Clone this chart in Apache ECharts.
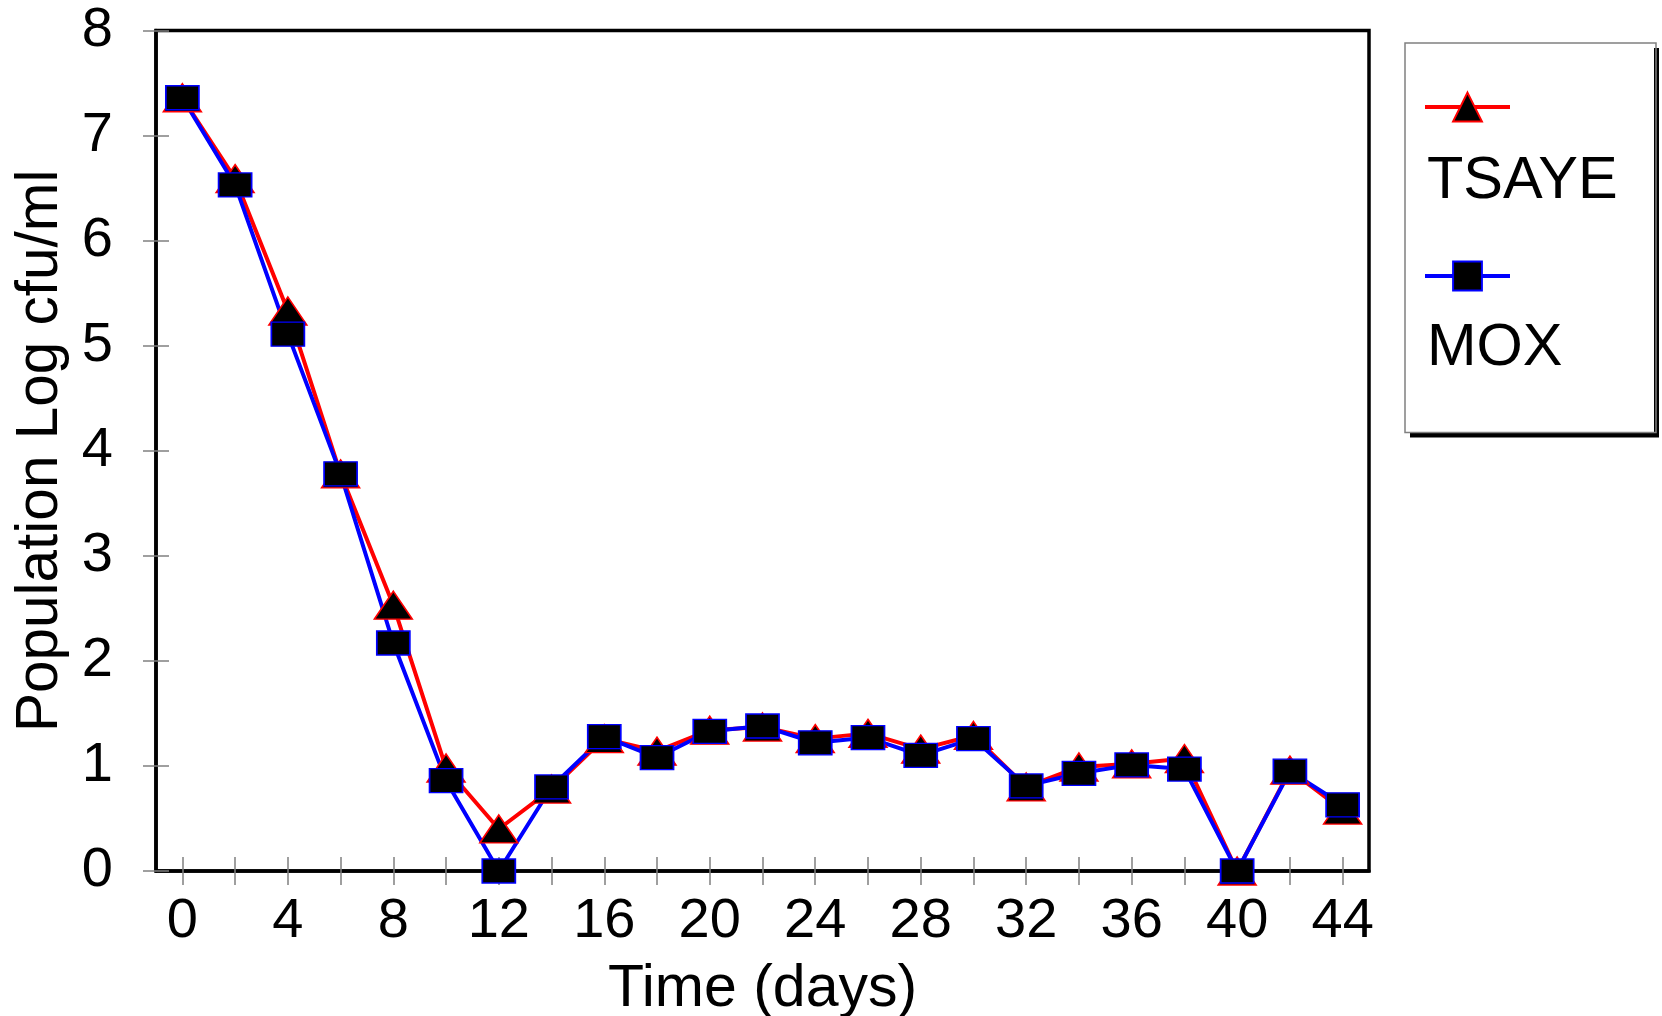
<!DOCTYPE html>
<html>
<head>
<meta charset="utf-8">
<script src="https://cdn.jsdelivr.net/npm/echarts@6/dist/echarts.min.js"></script>
<style>
html,body{margin:0;padding:0;background:#fff;}
#chart{width:1662px;height:1016px;}
</style>
</head>
<body>
<div id="chart"></div>
<script>
const days = ['0','2','4','6','8','10','12','14','16','18','20','22','24','26','28','30','32','34','36','38','40','42','44'];
const tsaye = [7.36, 6.59, 5.33, 3.78, 2.53, 0.98, 0.40, 0.78, 1.26, 1.14, 1.34, 1.37, 1.26, 1.31, 1.16, 1.29, 0.80, 0.99, 1.02, 1.07, 0, 0.96, 0.58];
const mox   = [7.36, 6.53, 5.11, 3.78, 2.17, 0.86, 0, 0.80, 1.28, 1.08, 1.33, 1.38, 1.22, 1.27, 1.10, 1.26, 0.81, 0.93, 1.01, 0.97, 0, 0.95, 0.63];
const seriesNames = ['TSAYE', 'MOX'];
const xTitle = 'Time (days)';
const yTitle = 'Population Log cfu/ml';

const FONT = 'Liberation Sans';
const tickStyle = {color: '#808080', width: 1.5};

const iconLegendBase = {
  data: seriesNames, orient: 'vertical', left: 1405, top: 43,
  padding: [46, 144, 141, 18],
  itemWidth: 85, itemHeight: 36, itemGap: 135.6,
  formatter: function () { return ''; }
};

const chart = echarts.init(document.getElementById('chart'), null, {renderer: 'canvas'});
chart.setOption({
  animation: false,
  backgroundColor: '#fff',
  grid: {
    left: 156, right: 293, top: 30.5, bottom: 145,
    show: true, borderColor: '#000', borderWidth: 3.5, backgroundColor: '#fff',
    outerBoundsMode: 'none'
  },
  xAxis: [{
    type: 'category', data: days, position: 'bottom', boundaryGap: true,
    axisLine: {show: true, lineStyle: {color: '#000', width: 3.5}},
    axisTick: {show: true, alignWithLabel: true, interval: 0, length: 14, inside: false, lineStyle: tickStyle},
    axisLabel: {interval: 1, margin: 23, color: '#000', fontSize: 56, fontFamily: FONT},
    name: xTitle, nameLocation: 'middle', nameGap: 89,
    nameTextStyle: {color: '#000', fontSize: 59, fontFamily: FONT},
    splitLine: {show: false}
  }, {
    type: 'category', data: days, position: 'bottom', boundaryGap: true,
    axisLine: {show: false},
    axisTick: {show: true, alignWithLabel: true, interval: 0, length: 14, inside: true, lineStyle: tickStyle},
    axisLabel: {show: false},
    splitLine: {show: false}
  }],
  yAxis: [{
    type: 'value', min: 0, max: 8, interval: 1, position: 'left',
    axisLine: {show: true, lineStyle: {color: '#000', width: 3.5}},
    axisTick: {show: true, length: 13, inside: false, lineStyle: tickStyle},
    axisLabel: {margin: 43, color: '#000', fontSize: 56, fontFamily: FONT},
    name: yTitle, nameLocation: 'middle', nameGap: 86,
    nameTextStyle: {color: '#000', fontSize: 58.5, fontFamily: FONT},
    splitLine: {show: false}
  }, {
    type: 'value', min: 0, max: 8, interval: 1, position: 'left',
    axisLine: {show: false},
    axisTick: {show: true, length: 13, inside: true, lineStyle: tickStyle},
    axisLabel: {show: false},
    splitLine: {show: false}
  }],
  legend: [
    Object.assign({}, iconLegendBase, {
      backgroundColor: '#fff', borderWidth: 0,
      shadowColor: '#000', shadowBlur: 0, shadowOffsetX: 5, shadowOffsetY: 5,
      itemStyle: {opacity: 0}, lineStyle: {opacity: 0},
      z: 3
    }),
    Object.assign({}, iconLegendBase, {
      backgroundColor: 'transparent', borderColor: '#808080', borderWidth: 1.5,
      lineStyle: {width: 4},
      z: 4
    }),
    {
      data: seriesNames, orient: 'vertical', left: 1421, top: 152,
      padding: 0, itemWidth: 0, itemHeight: 0, itemGap: 106.7,
      itemStyle: {opacity: 0}, lineStyle: {opacity: 0},
      textStyle: {color: '#000', fontSize: 59.5, lineHeight: 60, fontFamily: FONT},
      z: 6
    }
  ],
  series: [{
    name: seriesNames[0], type: 'line', data: tsaye,
    symbol: 'triangle', symbolSize: [38, 28], showSymbol: true, showAllSymbol: true,
    lineStyle: {color: '#ff0000', width: 4},
    itemStyle: {color: '#000', borderColor: '#ff0000', borderWidth: 1.5},
    emphasis: {disabled: true}
  }, {
    name: seriesNames[1], type: 'line', data: mox,
    symbol: 'rect', symbolSize: [33, 24], showSymbol: true, showAllSymbol: true,
    lineStyle: {color: '#0000ff', width: 4},
    itemStyle: {color: '#000', borderColor: '#0000ff', borderWidth: 1.5},
    emphasis: {disabled: true}
  }]
});
</script>
</body>
</html>
